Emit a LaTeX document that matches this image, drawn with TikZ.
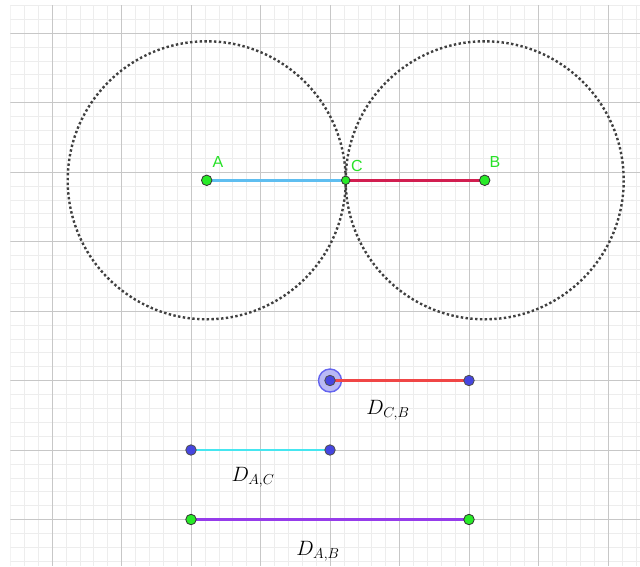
\documentclass[tikz,border=0pt]{standalone}
\usepackage{fontspec}
\newfontfamily\lblfont{Liberation Sans}
\definecolor{halofill}{RGB}{185,185,245}
\definecolor{haloedge}{RGB}{100,100,240}
\definecolor{ptgreen}{RGB}{40,235,40}
\definecolor{ptblue}{RGB}{70,70,225}
\definecolor{lblgreen}{RGB}{40,225,40}
\definecolor{segAC}{RGB}{95,190,240}
\definecolor{segCB}{RGB}{210,30,80}
\definecolor{dCBcol}{RGB}{240,70,70}
\definecolor{dACcol}{RGB}{70,230,240}
\definecolor{dABcol}{RGB}{150,60,235}
\begin{document}
\begin{tikzpicture}[x=1pt,y=-1pt,
  minorgrid/.style={draw=black!7,line width=0.6pt},
  majorgrid/.style={draw=black!22,line width=1pt},
  dotcircle/.style={draw=black!75,line width=2.4pt,dash pattern=on 2.4pt off 2.4pt},
  seg/.style={line width=2.8pt},
  gpt/.style={circle,draw=black!80,fill=ptgreen,line width=0.8pt,minimum size=10.5pt,inner sep=0pt},
  bpt/.style={circle,draw=black!70,fill=ptblue,line width=0.8pt,minimum size=10.5pt,inner sep=0pt},
  ptlbl/.style={text=lblgreen,font=\lblfont\fontsize{16}{16}\selectfont,inner sep=0pt},
  dlbl/.style={font=\fontsize{22}{22}\selectfont,inner sep=0pt}]
\useasboundingbox (0,0) rectangle (640,566);
\fill[white] (0,0) rectangle (640,566);
\begin{scope}
\clip (10.3,5.2) rectangle (640,566);
\foreach \i in {-3,...,42} \draw[minorgrid] (52+\i*13.9,0) -- (52+\i*13.9,566);
\foreach \j in {-2,...,38} \draw[minorgrid] (0,33+\j*13.9) -- (640,33+\j*13.9);
\foreach \i in {0,...,8} \draw[majorgrid] (52+\i*69.5,0) -- (52+\i*69.5,566);
\foreach \j in {0,...,7} \draw[majorgrid] (0,33+\j*69.5) -- (640,33+\j*69.5);
\end{scope}
% top construction
\coordinate (pA) at (206.7,180.3);
\coordinate (pC) at (345.7,180.3);
\coordinate (pB) at (484.7,180.3);
\draw[dotcircle] (pA) circle[radius=139];
\draw[dotcircle] (pB) circle[radius=139];
\draw[seg,draw=segAC] (pA) -- (pC);
\draw[seg,draw=segCB] (pC) -- (pB);
\node[gpt] (A) at (pA) {};
\node[gpt,minimum size=8.5pt] (C) at (pC) {};
\node[gpt] (B) at (pB) {};
\node[ptlbl] (lA) at (218,162) {A};
\node[ptlbl] (lC) at (357,166) {C};
\node[ptlbl] (lB) at (495,162) {B};
% bottom distances
\coordinate (c1) at (330,380.5);
\coordinate (b1) at (469,380.5);
\coordinate (a2) at (191,450);
\coordinate (c2) at (330,450);
\coordinate (a3) at (191,519.5);
\coordinate (b3) at (469,519.5);
\filldraw[fill=halofill,draw=haloedge,line width=1.4pt] (c1) circle[radius=11.5];
\draw[seg,draw=dCBcol] (c1) -- (b1);
\draw[seg,draw=dACcol] (a2) -- (c2);
\draw[seg,draw=dABcol] (a3) -- (b3);
\node[bpt] (C1) at (c1) {};
\node[bpt] (B1) at (b1) {};
\node[bpt] (A2) at (a2) {};
\node[bpt] (C2) at (c2) {};
\node[gpt] (A3) at (a3) {};
\node[gpt] (B3) at (b3) {};
\node[dlbl] (dCB) at (388,410) {$D_{C,B}$};
\node[dlbl] (dAC) at (253,477) {$D_{A,C}$};
\node[dlbl] (dAB) at (318,551) {$D_{A,B}$};
\end{tikzpicture}
\end{document}
